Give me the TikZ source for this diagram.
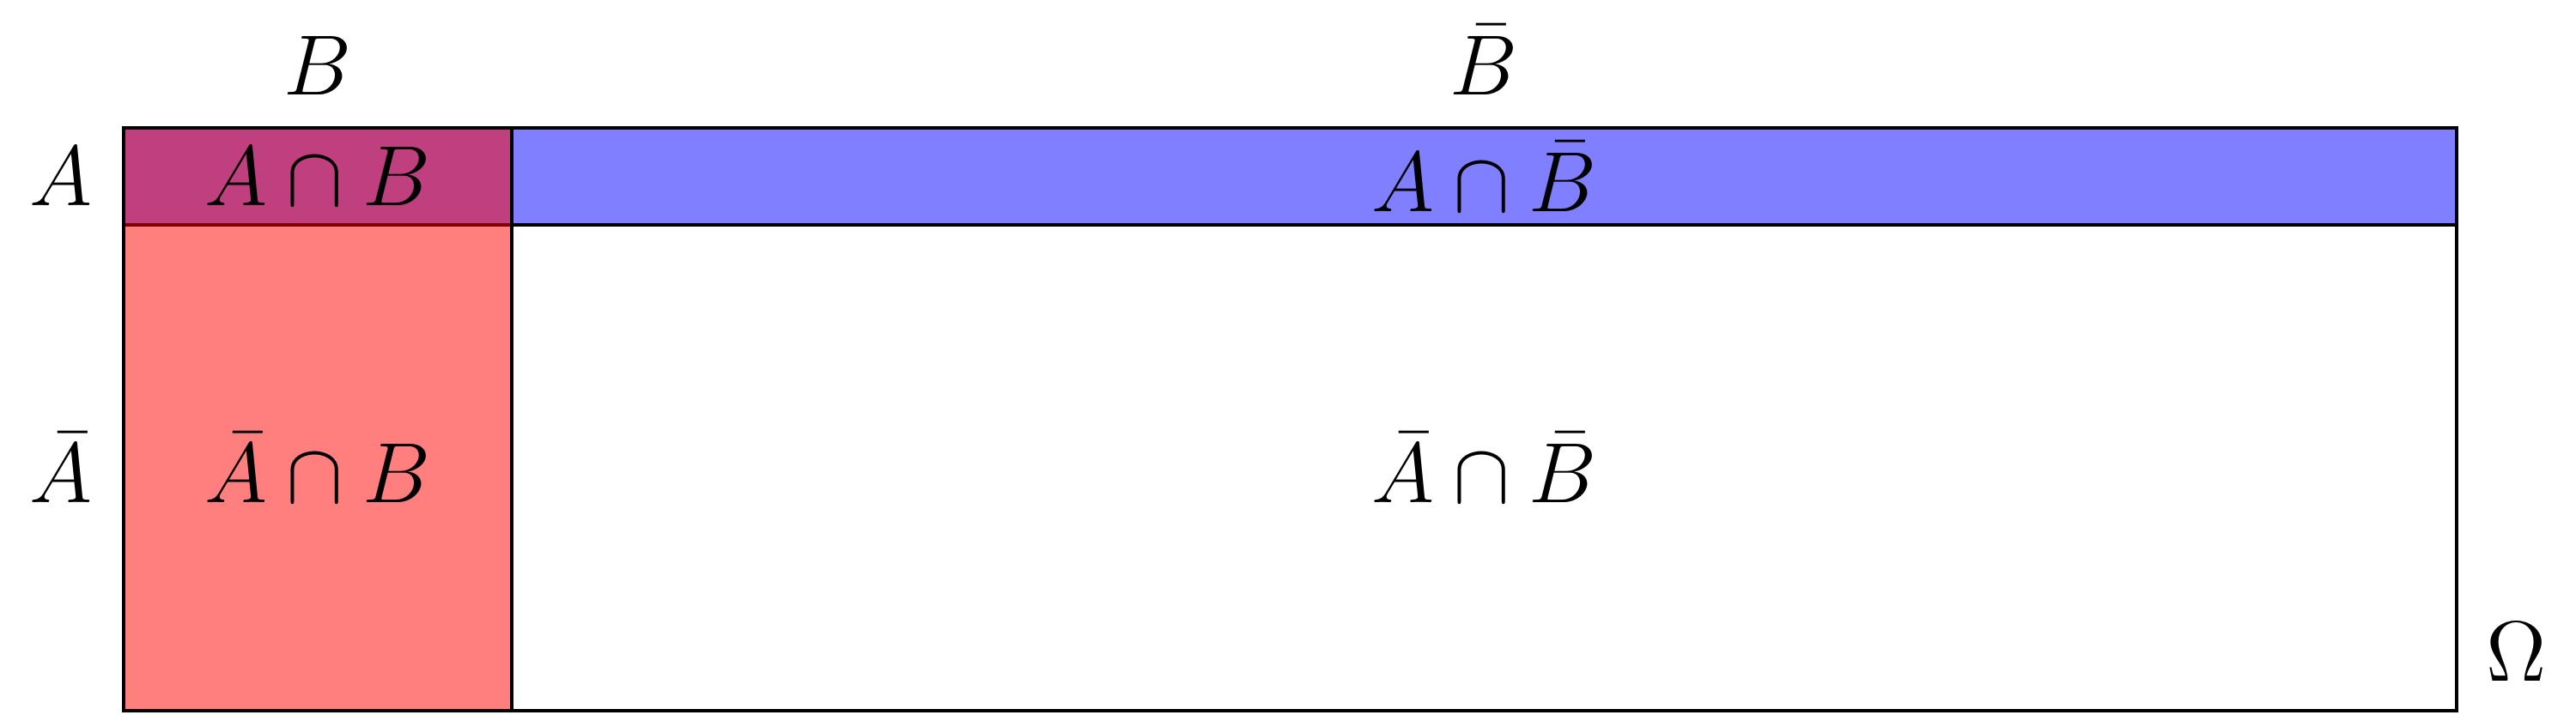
\RequirePackage{fix-cm}
\documentclass[tikz,border=0pt]{standalone}
\usepackage{xcolor}
\usepackage{tikz}
\definecolor{VDBlue}{HTML}{0000FF}
\definecolor{VDRed}{HTML}{FF0000}

\begin{document}
\begin{tikzpicture}[x=1cm,y=1cm,lbl/.style={font=\fontsize{12.5}{15}\selectfont,inner sep=0pt}]
\path[use as bounding box] (-0.634,-0.018) rectangle (12.616,3.658);
\fill[VDBlue,opacity=0.5] (0,2.5) rectangle (12,3);
\draw[line width=0.5pt] (0,2.5) -- (12,2.5);
\fill[VDRed,opacity=0.5] (0,0) rectangle (2,3);
\draw[line width=0.5pt] (0,0) rectangle (12,3);
\draw[line width=0.5pt] (2,0) -- (2,3);
% cells
\node[lbl] (ab) at (1,2.75) {$A\cap B$};
\node[lbl] (anb) at (7,2.75) {$A\cap\bar{B}$};
\node[lbl] (nab) at (1,1.25) {$\bar{A}\cap B$};
\node[lbl] (nanb) at (7,1.25) {$\bar{A}\cap\bar{B}$};
% headers
\node[lbl,anchor=base] (colB) at (1,3.17) {$B$};
\node[lbl,anchor=base] (colnB) at (7,3.17) {$\bar{B}$};
\node[lbl] (rowA) at (-0.32,2.75) {$A$};
\node[lbl] (rownA) at (-0.32,1.25) {$\bar{A}$};
\node[lbl,anchor=base] (omega) at (12.31,0.155) {$\Omega$};
\end{tikzpicture}
\end{document}
